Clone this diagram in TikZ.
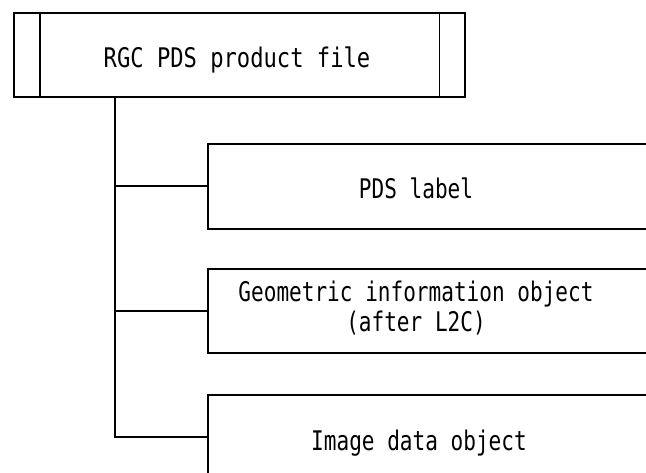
\documentclass[tikz,border=0pt]{standalone}
\usepackage{fontspec}
\newfontfamily\topfont[FakeStretch=0.82]{DejaVu Sans Mono}
\newfontfamily\boxfont[FakeStretch=0.78]{DejaVu Sans Mono}
\begin{document}
\begin{tikzpicture}[x=1pt,y=-1pt,
  frame/.style={draw=black,line width=1.6pt,rectangle,inner sep=0pt,anchor=north west},
  conn/.style={draw=black,line width=1.6pt},
  toplbl/.style={inner sep=0pt,font=\topfont\fontsize{27}{30}\selectfont,anchor=base},
  lbl/.style={inner sep=0pt,font=\boxfont\fontsize{27}{30}\selectfont,align=center,anchor=base}]
\useasboundingbox (0,0) rectangle (646,473);
\clip (0,0) rectangle (646,473);
% top box
\node[frame,minimum width=451pt,minimum height=84pt] (top) at (13,12) {};
\draw[conn] ([xshift=27pt]top.north west) -- ([xshift=27pt]top.south west);
\draw[conn] ([xshift=-26pt]top.north east) -- ([xshift=-26pt]top.south east);
\node[toplbl] (toptxt) at (237,68) {RGC PDS product file};
% child boxes (extend beyond right / bottom edge)
\node[frame,minimum width=480pt,minimum height=85pt] (b1) at (207,143) {};
\node[frame,minimum width=480pt,minimum height=84pt] (b2) at (207,268) {};
\node[frame,minimum width=480pt,minimum height=84pt] (b3) at (207,394) {};
\node[lbl] (t1) at (416,199) {PDS label};
\node[lbl] (t2) at (416,332) {Geometric information object\\(after L2C)};
\node[lbl] (t3) at (419,450) {Image data object};
% connectors
\coordinate (j0) at ([xshift=102pt]top.south west);
\draw[conn] (j0) |- (b1.west);
\draw[conn] (j0) |- (b2.west);
\draw[conn] (j0) |- (b3.west);
\end{tikzpicture}
\end{document}
